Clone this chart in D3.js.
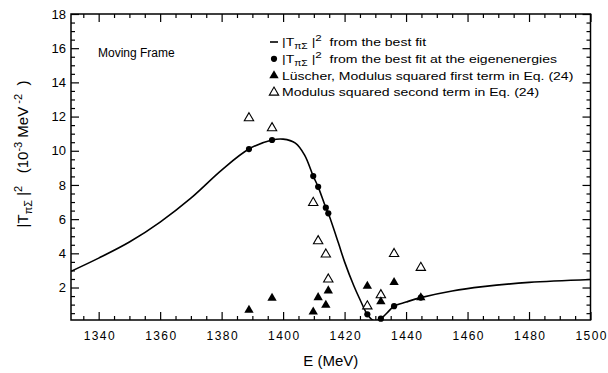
<!DOCTYPE html>
<html>
<head>
<meta charset="utf-8">
<script src="https://cdn.jsdelivr.net/npm/d3@7"></script>
<style>
  body { margin: 0; background: #fff; }
  svg { display: block; }
  text { font-family: "Liberation Sans", Arial, Helvetica, sans-serif; fill: #000; white-space: pre; }
</style>
</head>
<body>
<svg id="chart" width="608" height="373"></svg>
<script>
// Eigenenergies (MeV) of the moving-frame levels
const eigenE = [1388.9, 1396.4, 1409.8, 1411.4, 1413.9, 1414.7, 1427.4, 1431.8, 1436.1, 1444.8];
// |T_piSigma|^2 of the best fit evaluated at the eigenenergies (10^-3 MeV^-2)
const fitAtEigen = [10.10, 10.63, 8.52, 7.89, 6.67, 6.34, 0.43, 0.18, 0.91, 1.41];
// Lüscher: modulus squared of the first term
const luscherFirst = [0.68, 1.38, 0.58, 1.42, 0.97, 1.81, 2.08, 1.18, 2.30, 1.41];
// Modulus squared of the second term
const secondTerm = [11.91, 11.33, 6.96, 4.72, 3.94, 2.48, 0.91, 1.56, 3.97, 3.16];

// Best-fit curve |T_piSigma|^2 sampled along E
const curveE = [1331, 1340, 1350, 1360, 1370, 1380, 1388.9, 1396.4, 1400, 1404, 1407, 1409.8, 1411.4,
                1413.9, 1414.7, 1418, 1420, 1423, 1425, 1427.4, 1429.6, 1431.8, 1434, 1436.1, 1440,
                1444.8, 1455, 1465, 1480, 1500];
const curveV = [2.95, 3.72, 4.66, 5.83, 7.23, 8.87, 10.10, 10.63, 10.68, 10.45, 9.75, 8.52, 7.89,
                6.67, 6.34, 4.60, 3.50, 2.10, 1.30, 0.43, 0.05, 0.18, 0.55, 0.91, 1.15,
                1.41, 1.80, 2.05, 2.30, 2.47];

const xMajorTicks = [1340, 1360, 1380, 1400, 1420, 1440, 1460, 1480, 1500];
const yMajorTicks = [2, 4, 6, 8, 10, 12, 14, 16, 18];

const svg = d3.select("#chart");
const W = 608, H = 373;
const m = { left: 71, right: 17.5, top: 14, bottom: 53 };
const pw = W - m.left - m.right, ph = H - m.top - m.bottom;

const x = d3.scaleLinear().domain([1331, 1500]).range([m.left, m.left + pw]);
const y = d3.scaleLinear().domain([0.1, 18]).range([m.top + ph, m.top]);

const xMinor = d3.range(1335, 1500.1, 5).filter(v => !xMajorTicks.includes(v));
const yMinor = d3.range(0.5, 18.01, 0.5).filter(v => !yMajorTicks.includes(v));

svg.append("defs").append("clipPath").attr("id", "plotClip")
  .append("rect").attr("x", m.left).attr("y", m.top).attr("width", pw).attr("height", ph);

function styleAxis(g) {
  g.select(".domain").remove();
  g.selectAll(".tick line").attr("stroke", "#000").attr("stroke-width", 1.2);
}

// bottom axis with labels
const gx = svg.append("g").attr("transform", `translate(0,${m.top + ph})`)
  .call(d3.axisBottom(x).tickValues(xMajorTicks).tickSize(-8).tickSizeOuter(0).tickPadding(11).tickFormat(d3.format("d")));
styleAxis(gx);
gx.selectAll("text").attr("font-size", 12).attr("font-family", null)
  .attr("textLength", 31).attr("lengthAdjust", "spacing");
svg.append("g").attr("transform", `translate(0,${m.top + ph})`)
  .call(d3.axisBottom(x).tickValues(xMinor).tickSize(-4).tickSizeOuter(0).tickFormat(""))
  .call(styleAxis);
// top axis
svg.append("g").attr("transform", `translate(0,${m.top})`)
  .call(d3.axisTop(x).tickValues(xMajorTicks).tickSize(-8).tickSizeOuter(0).tickFormat(""))
  .call(styleAxis);
svg.append("g").attr("transform", `translate(0,${m.top})`)
  .call(d3.axisTop(x).tickValues(xMinor).tickSize(-4).tickSizeOuter(0).tickFormat(""))
  .call(styleAxis);
// left axis with labels
const gy = svg.append("g").attr("transform", `translate(${m.left},0)`)
  .call(d3.axisLeft(y).tickValues(yMajorTicks).tickSize(-8).tickSizeOuter(0).tickPadding(5).tickFormat(d3.format("d")));
styleAxis(gy);
gy.selectAll("text").attr("font-size", 13).attr("font-family", null);
svg.append("g").attr("transform", `translate(${m.left},0)`)
  .call(d3.axisLeft(y).tickValues(yMinor).tickSize(-4).tickSizeOuter(0).tickFormat(""))
  .call(styleAxis);
// right axis
svg.append("g").attr("transform", `translate(${m.left + pw},0)`)
  .call(d3.axisRight(y).tickValues(yMajorTicks).tickSize(-8).tickSizeOuter(0).tickFormat(""))
  .call(styleAxis);
svg.append("g").attr("transform", `translate(${m.left + pw},0)`)
  .call(d3.axisRight(y).tickValues(yMinor).tickSize(-4).tickSizeOuter(0).tickFormat(""))
  .call(styleAxis);

// frame
svg.append("rect").attr("x", m.left).attr("y", m.top).attr("width", pw).attr("height", ph)
  .attr("fill", "none").attr("stroke", "#000").attr("stroke-width", 1.5);

// best-fit curve
const curvePts = curveE.map((e, i) => [e, curveV[i]]);
svg.append("path").datum(curvePts)
  .attr("clip-path", "url(#plotClip)")
  .attr("fill", "none").attr("stroke", "#000").attr("stroke-width", 1.6)
  .attr("d", d3.line().x(d => x(d[0])).y(d => y(d[1])).curve(d3.curveCatmullRom.alpha(0.5)));

// markers
const tri = d3.symbol(d3.symbolTriangle, 38);
const plot = svg.append("g");
plot.selectAll("circle.fit").data(eigenE).join("circle").attr("class", "fit")
  .attr("cx", d => x(d)).attr("cy", (d, i) => y(fitAtEigen[i])).attr("r", 3.1).attr("fill", "#000");
plot.selectAll("path.second").data(eigenE).join("path").attr("class", "second")
  .attr("d", tri).attr("transform", (d, i) => `translate(${x(d)},${y(secondTerm[i])})`)
  .attr("fill", "#fff").attr("stroke", "#000").attr("stroke-width", 1.1);
plot.selectAll("path.first").data(eigenE).join("path").attr("class", "first")
  .attr("d", tri).attr("transform", (d, i) => `translate(${x(d)},${y(luscherFirst[i])})`)
  .attr("fill", "#000");

// axis titles
svg.append("text").attr("x", m.left + pw / 2).attr("y", 366).attr("text-anchor", "middle")
  .attr("font-size", 15).text("E (MeV)");

const yt = svg.append("text").attr("text-anchor", "middle").attr("font-size", 15)
  .attr("transform", "translate(28,154) rotate(-90)");
yt.append("tspan").text("|T");
yt.append("tspan").attr("font-size", 11).attr("dy", 4).text("πΣ");
yt.append("tspan").attr("dy", -4).text(" |");
yt.append("tspan").attr("font-size", 11).attr("dy", -6).text("2");
yt.append("tspan").attr("dy", 6).text("   (10");
yt.append("tspan").attr("font-size", 11).attr("dy", -6).text("-3");
yt.append("tspan").attr("dy", 6).text(" MeV");
yt.append("tspan").attr("font-size", 11).attr("dy", -6).text(" -2");
yt.append("tspan").attr("dy", 6).text("  )");

svg.append("text").attr("x", 98).attr("y", 57).attr("font-size", 12).text("Moving Frame");

// legend
const lx = 274, tx = 282, ly0 = 42, lStep = 16.8, lfs = 11.5, stretch = 1.22;
const legend = svg.append("g");
legend.append("line").attr("x1", lx - 4).attr("x2", lx + 4).attr("y1", ly0).attr("y2", ly0)
  .attr("stroke", "#000").attr("stroke-width", 1.6);
legend.append("circle").attr("cx", lx).attr("cy", ly0 + lStep).attr("r", 3.1).attr("fill", "#000");
legend.append("path").attr("d", tri).attr("transform", `translate(${lx},${ly0 + 2 * lStep})`).attr("fill", "#000");
legend.append("path").attr("d", tri).attr("transform", `translate(${lx},${ly0 + 3 * lStep})`)
  .attr("fill", "#fff").attr("stroke", "#000").attr("stroke-width", 1.1);

function legendText(row) {
  return legend.append("text").attr("font-size", lfs)
    .attr("transform", `translate(${tx},${ly0 + row * lStep + 4}) scale(${stretch},1)`);
}
function tLabel(row, rest) {
  const t = legendText(row);
  t.append("tspan").text("|T");
  t.append("tspan").attr("font-size", 8.5).attr("dy", 3).text("πΣ");
  t.append("tspan").attr("dy", -3).text(" |");
  t.append("tspan").attr("font-size", 9.5).attr("dy", -5).text("2");
  t.append("tspan").attr("dy", 5).text(rest);
}
tLabel(0, "  from the best fit");
tLabel(1, "  from the best fit at the eigenenergies");
legendText(2).text("Lüscher, Modulus squared first term in Eq. (24)");
legendText(3).text("Modulus squared second term in Eq. (24)");
</script>
</body>
</html>
